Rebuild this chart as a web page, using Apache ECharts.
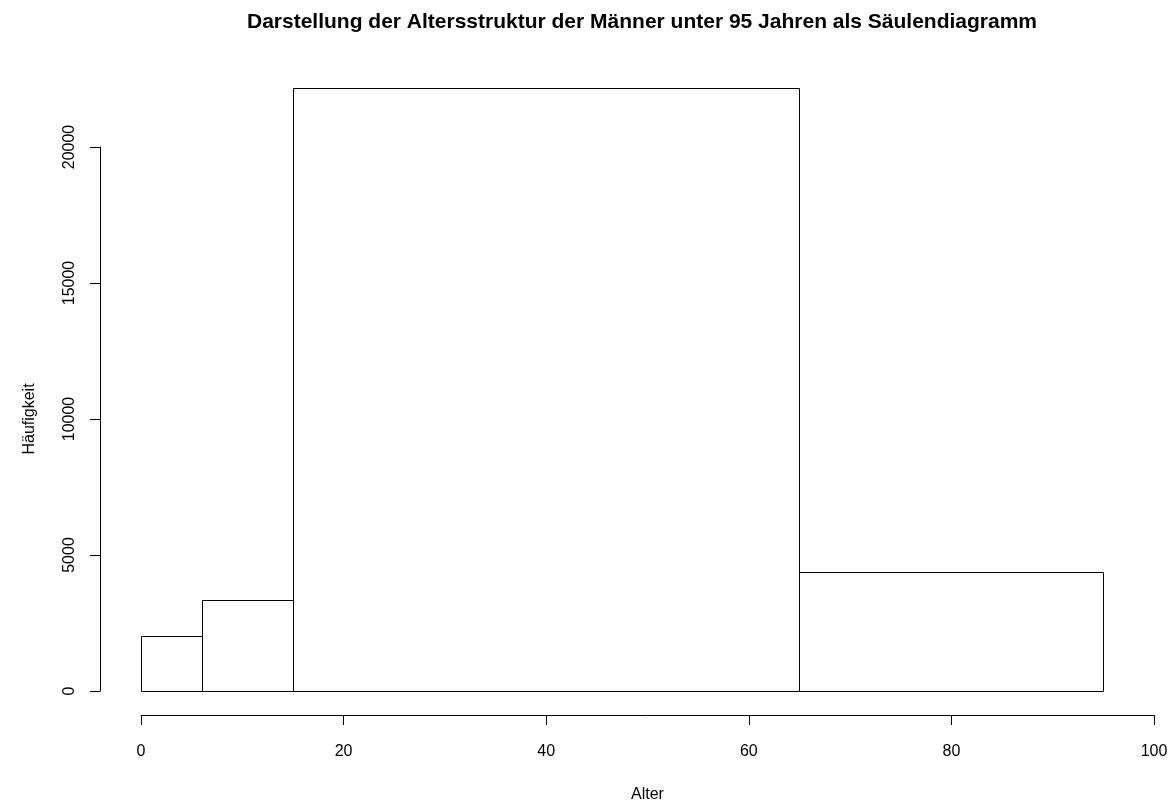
<!DOCTYPE html>
<html>
<head>
<meta charset="utf-8">
<script src="https://cdn.jsdelivr.net/npm/echarts@6/dist/echarts.min.js"></script>
<style>
html,body{margin:0;padding:0;background:#fff;}
#chart{width:1173px;height:804px;}
</style>
</head>
<body>
<div id="chart"></div>
<script>
const titleText = 'Darstellung der Altersstruktur der Männer unter 95 Jahren als Säulendiagramm';
const xAxisName = 'Alter';
const yAxisName = 'Häufigkeit';
const binStarts = [0, 6, 15, 65];
const binEnds = [6, 15, 65, 95];
const counts = [2020, 3350, 22170, 4375];
const xTicks = [0, 20, 40, 60, 80, 100];
const yTicks = [0, 5000, 10000, 15000, 20000];

const data = binStarts.map((s, i) => [s, binEnds[i], counts[i]]);
const FONT = '"Liberation Sans", Arial, Helvetica, sans-serif';

const chart = echarts.init(document.getElementById('chart'), null, {renderer: 'canvas'});
chart.setOption({
  backgroundColor: '#ffffff',
  animation: false,
  title: {
    text: titleText,
    left: 637,
    top: 7,
    textAlign: 'center',
    textStyle: {fontFamily: FONT, fontSize: 21, fontWeight: 'bold', color: '#000'}
  },
  grid: {left: 141, right: 19, top: 147, bottom: 113, containLabel: false, outerBoundsMode: 'none'},
  xAxis: {
    type: 'value',
    min: xTicks[0], max: xTicks[xTicks.length - 1], interval: 20,
    offset: 24,
    name: xAxisName,
    nameLocation: 'middle',
    nameGap: 72,
    nameTextStyle: {fontFamily: FONT, fontSize: 16, color: '#000'},
    axisLine: {show: true, onZero: false, lineStyle: {color: '#000', width: 1}},
    axisTick: {show: true, length: 10, lineStyle: {color: '#000', width: 1}},
    axisLabel: {fontFamily: FONT, fontSize: 16, color: '#000', margin: 29, showMinLabel: true, showMaxLabel: true,
      formatter: v => String(v)},
    splitLine: {show: false}
  },
  yAxis: {
    type: 'value',
    min: yTicks[0], max: yTicks[yTicks.length - 1], interval: 5000,
    offset: 41,
    name: yAxisName,
    nameLocation: 'middle',
    nameGap: 62,
    nameRotate: 90,
    nameTextStyle: {fontFamily: FONT, fontSize: 16, color: '#000'},
    axisLine: {show: true, onZero: false, lineStyle: {color: '#000', width: 1}},
    axisTick: {show: true, length: 10, lineStyle: {color: '#000', width: 1}},
    axisLabel: {fontFamily: FONT, fontSize: 16, color: '#000', margin: 22, rotate: 90, showMinLabel: true, showMaxLabel: true,
      formatter: v => String(v)},
    splitLine: {show: false}
  },
  series: [{
    type: 'custom',
    clip: false,
    data: data,
    encode: {x: [0, 1], y: 2},
    renderItem: function (params, api) {
      const p1 = api.coord([api.value(0), api.value(2)]);
      const p2 = api.coord([api.value(1), 0]);
      const x1 = Math.round(p1[0]) + 0.5, x2 = Math.round(p2[0]) + 0.5;
      const y1 = Math.round(p1[1]) + 0.5, y2 = Math.round(p2[1]) + 0.5;
      return {
        type: 'rect',
        shape: {x: x1, y: y1, width: x2 - x1, height: y2 - y1},
        style: {fill: '#ffffff', stroke: '#000000', lineWidth: 1}
      };
    }
  }]
});
</script>
</body>
</html>
